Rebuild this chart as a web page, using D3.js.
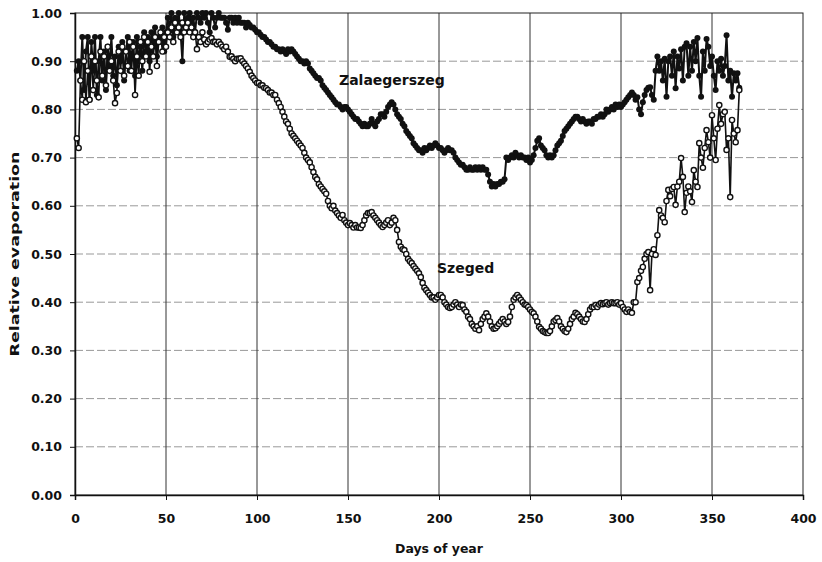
<!DOCTYPE html>
<html>
<head>
<meta charset="utf-8">
<script src="https://cdn.jsdelivr.net/npm/d3@7"></script>
<style>
  html, body { margin: 0; padding: 0; background: #fff; }
  svg { display: block; }
  text { font-family: "DejaVu Sans", sans-serif; font-weight: bold; fill: #111; }
</style>
</head>
<body>
<svg id="chart" width="822" height="562"></svg>
<script>
// Daily relative evaporation, day 1..365
const zalaegerszeg = [
  0.88, 0.90, 0.86, 0.95, 0.84, 0.92, 0.95, 0.82, 0.94, 0.88,
  0.95, 0.83, 0.90, 0.95, 0.86, 0.92, 0.84, 0.93, 0.89, 0.95,
  0.87, 0.91, 0.85, 0.93, 0.90, 0.94, 0.86, 0.92, 0.95, 0.88,
  0.91, 0.94, 0.87, 0.95, 0.90, 0.93, 0.88, 0.96, 0.92, 0.95,
  0.90, 0.96, 0.93, 0.97, 0.91, 0.95, 0.94, 0.97, 0.92, 0.96,
  0.99, 0.97, 1.00, 0.95, 0.99, 0.98, 1.00, 0.96, 0.90, 1.00,
  0.97, 0.99, 1.00, 0.98, 0.99, 0.96, 1.00, 0.99, 0.98, 1.00,
  0.99, 1.00, 0.98, 0.96, 1.00, 0.99, 0.97, 0.99, 1.00, 0.99,
  0.99, 0.99, 0.98, 0.965, 0.99, 0.99, 0.98, 0.99, 0.98, 0.99,
  0.98, 0.98, 0.98, 0.97, 0.98, 0.975, 0.97, 0.97, 0.965, 0.96,
  0.96, 0.955, 0.95, 0.95, 0.945, 0.94, 0.94, 0.935, 0.93, 0.93,
  0.925, 0.925, 0.92, 0.925, 0.92, 0.915, 0.925, 0.92, 0.925, 0.92,
  0.915, 0.91, 0.905, 0.90, 0.90, 0.895, 0.90, 0.895, 0.885, 0.88,
  0.875, 0.87, 0.865, 0.865, 0.86, 0.85, 0.845, 0.84, 0.835, 0.83,
  0.825, 0.82, 0.815, 0.81, 0.81, 0.805, 0.80, 0.805, 0.805, 0.80,
  0.795, 0.79, 0.785, 0.78, 0.78, 0.775, 0.77, 0.765, 0.77, 0.765,
  0.765, 0.77, 0.78, 0.77, 0.765, 0.775, 0.78, 0.79, 0.79, 0.785,
  0.795, 0.805, 0.81, 0.815, 0.81, 0.80, 0.79, 0.785, 0.78, 0.77,
  0.765, 0.755, 0.75, 0.745, 0.74, 0.73, 0.725, 0.72, 0.715, 0.715,
  0.71, 0.72, 0.715, 0.72, 0.725, 0.72, 0.725, 0.73, 0.725, 0.72,
  0.72, 0.715, 0.71, 0.715, 0.72, 0.715, 0.715, 0.71, 0.70, 0.695,
  0.69, 0.685, 0.685, 0.68, 0.675, 0.675, 0.68, 0.675, 0.675, 0.68,
  0.675, 0.68, 0.675, 0.68, 0.675, 0.675, 0.665, 0.65, 0.64, 0.645,
  0.64, 0.645, 0.645, 0.65, 0.65, 0.655, 0.70, 0.695, 0.70, 0.705,
  0.70, 0.71, 0.705, 0.70, 0.705, 0.70, 0.70, 0.695, 0.70, 0.69,
  0.695, 0.705, 0.72, 0.735, 0.74, 0.725, 0.72, 0.715, 0.705, 0.70,
  0.705, 0.70, 0.705, 0.715, 0.725, 0.73, 0.735, 0.745, 0.755, 0.76,
  0.765, 0.77, 0.775, 0.78, 0.785, 0.785, 0.78, 0.775, 0.78, 0.775,
  0.77, 0.775, 0.775, 0.77, 0.78, 0.78, 0.785, 0.785, 0.79, 0.785,
  0.79, 0.80, 0.795, 0.80, 0.805, 0.80, 0.81, 0.805, 0.81, 0.805,
  0.81, 0.815, 0.82, 0.825, 0.83, 0.835, 0.83, 0.82, 0.825, 0.80,
  0.79, 0.815, 0.83, 0.84, 0.845, 0.846, 0.83, 0.82, 0.88, 0.91,
  0.88, 0.90, 0.86, 0.905, 0.826, 0.90, 0.91, 0.87, 0.92, 0.844,
  0.91, 0.885, 0.925, 0.86, 0.93, 0.937, 0.87, 0.93, 0.88, 0.94,
  0.90, 0.948, 0.87, 0.826, 0.92, 0.88, 0.946, 0.93, 0.89, 0.91,
  0.87, 0.84, 0.90, 0.88, 0.905, 0.87, 0.89, 0.954, 0.86, 0.88,
  0.826, 0.875, 0.86, 0.875, 0.845
];

const szeged = [
  0.74, 0.72, 0.86, 0.82, 0.90, 0.815, 0.88, 0.82, 0.91, 0.84,
  0.90, 0.86, 0.825, 0.92, 0.87, 0.91, 0.85, 0.93, 0.88, 0.90,
  0.86, 0.813, 0.834, 0.92, 0.88, 0.93, 0.87, 0.92, 0.89, 0.94,
  0.88, 0.93, 0.83, 0.91, 0.87, 0.94, 0.90, 0.95, 0.91, 0.94,
  0.878, 0.93, 0.91, 0.95, 0.89, 0.94, 0.96, 0.92, 0.95, 0.93,
  0.96, 0.95, 0.97, 0.94, 0.98, 0.96, 0.97, 0.95, 0.98, 0.96,
  0.97, 0.98, 0.96, 0.97, 0.95, 0.96, 0.925, 0.95, 0.94, 0.96,
  0.945, 0.935, 0.94, 0.945, 0.948, 0.94, 0.94, 0.935, 0.94, 0.935,
  0.93, 0.925, 0.93, 0.92, 0.909, 0.91, 0.905, 0.90, 0.905, 0.905,
  0.906, 0.90, 0.895, 0.89, 0.885, 0.878, 0.87, 0.865, 0.86, 0.855,
  0.855, 0.85, 0.85, 0.845, 0.844, 0.84, 0.835, 0.835, 0.83, 0.83,
  0.82, 0.813, 0.805, 0.795, 0.785, 0.775, 0.77, 0.76, 0.75, 0.745,
  0.74, 0.735, 0.73, 0.725, 0.72, 0.71, 0.70, 0.695, 0.69, 0.68,
  0.67, 0.66, 0.655, 0.645, 0.64, 0.635, 0.63, 0.625, 0.61, 0.60,
  0.595, 0.60, 0.59, 0.585, 0.58, 0.575, 0.581, 0.57, 0.565, 0.56,
  0.564, 0.56, 0.555, 0.56, 0.555, 0.555, 0.554, 0.56, 0.57, 0.58,
  0.585, 0.585, 0.587, 0.58, 0.575, 0.57, 0.565, 0.56, 0.556, 0.56,
  0.565, 0.57, 0.56, 0.565, 0.575, 0.57, 0.55, 0.525, 0.515, 0.51,
  0.508, 0.50, 0.49, 0.485, 0.481, 0.475, 0.47, 0.465, 0.46, 0.452,
  0.44, 0.43, 0.425, 0.42, 0.415, 0.41, 0.41, 0.405, 0.41, 0.415,
  0.415, 0.41, 0.40, 0.395, 0.39, 0.388, 0.39, 0.395, 0.40, 0.395,
  0.39, 0.395, 0.394, 0.385, 0.38, 0.37, 0.365, 0.355, 0.35, 0.345,
  0.35, 0.342, 0.355, 0.365, 0.37, 0.377, 0.37, 0.36, 0.35, 0.345,
  0.346, 0.35, 0.355, 0.36, 0.365, 0.36, 0.355, 0.359, 0.37, 0.39,
  0.405, 0.41, 0.415, 0.41, 0.405, 0.40, 0.395, 0.394, 0.39, 0.385,
  0.38, 0.377, 0.37, 0.36, 0.349, 0.345, 0.34, 0.338, 0.336, 0.336,
  0.34, 0.35, 0.36, 0.363, 0.367, 0.36, 0.35, 0.345, 0.34, 0.338,
  0.345, 0.355, 0.365, 0.37, 0.378, 0.375, 0.37, 0.365, 0.36, 0.359,
  0.365, 0.375, 0.385, 0.39, 0.39, 0.394, 0.39, 0.395, 0.398, 0.396,
  0.398, 0.40, 0.395, 0.398, 0.40, 0.398, 0.398, 0.40, 0.395, 0.398,
  0.39, 0.385, 0.38, 0.385, 0.38, 0.378, 0.40, 0.40, 0.442, 0.45,
  0.465, 0.473, 0.49, 0.50, 0.504, 0.425, 0.50, 0.51, 0.498, 0.539,
  0.591, 0.58, 0.575, 0.566, 0.61, 0.633, 0.62, 0.635, 0.639, 0.602,
  0.64, 0.65, 0.699, 0.66, 0.587, 0.627, 0.64, 0.63, 0.608, 0.674,
  0.65, 0.639, 0.73, 0.70, 0.679, 0.72, 0.757, 0.732, 0.70, 0.788,
  0.74, 0.695, 0.76, 0.809, 0.77, 0.79, 0.795, 0.716, 0.74, 0.618,
  0.778, 0.75, 0.732, 0.757, 0.84
];

const xTicks = [0, 50, 100, 150, 200, 250, 300, 350, 400];
const yTicks = [0, 0.1, 0.2, 0.3, 0.4, 0.5, 0.6, 0.7, 0.8, 0.9, 1.0];
const seriesLabels = ["Zalaegerszeg", "Szeged"];
const axisTitles = { x: "Days of year", y: "Relative evaporation" };

const svg = d3.select("#chart");
const plot = { left: 75, right: 803, top: 13, bottom: 495 };

const x = d3.scaleLinear().domain([0, 400]).range([plot.left, plot.right]);
const y = d3.scaleLinear().domain([0, 1]).range([plot.bottom, plot.top]);

// horizontal dashed grid
svg.append("g")
  .selectAll("line")
  .data(yTicks.filter(v => v > 0 && v < 1))
  .join("line")
  .attr("x1", plot.left).attr("x2", plot.right)
  .attr("y1", d => y(d)).attr("y2", d => y(d))
  .attr("stroke", "#999").attr("stroke-width", 1)
  .attr("stroke-dasharray", "8,3");

// vertical solid grid
svg.append("g")
  .selectAll("line")
  .data(xTicks.filter(v => v > 0 && v < 400))
  .join("line")
  .attr("x1", d => x(d)).attr("x2", d => x(d))
  .attr("y1", plot.top).attr("y2", plot.bottom)
  .attr("stroke", "#333").attr("stroke-width", 1);

// frame
svg.append("rect")
  .attr("x", plot.left).attr("y", plot.top)
  .attr("width", plot.right - plot.left).attr("height", plot.bottom - plot.top)
  .attr("fill", "none").attr("stroke", "#222").attr("stroke-width", 1);

// axes
const xAxis = svg.append("g")
  .attr("transform", `translate(0,${plot.bottom})`)
  .call(d3.axisBottom(x).tickValues(xTicks).tickFormat(d3.format("d")).tickSizeOuter(0).tickSize(5).tickPadding(14));
const yAxis = svg.append("g")
  .attr("transform", `translate(${plot.left},0)`)
  .call(d3.axisLeft(y).tickValues(yTicks).tickFormat(d3.format(".2f")).tickSizeOuter(0).tickSize(5).tickPadding(8));

[xAxis, yAxis].forEach(a => {
  a.select(".domain").attr("stroke", "#111").attr("stroke-width", 1.5);
  a.selectAll(".tick line").attr("stroke", "#111");
  a.selectAll(".tick text")
    .attr("font-family", "DejaVu Sans, sans-serif")
    .attr("font-weight", "bold")
    .attr("font-size", 12.5)
    .attr("fill", "#111");
});

const days = d3.range(1, 366);
const lineGen = vals => d3.line()
  .x((d, i) => x(days[i]))
  .y(d => y(d))(vals);

// Zalaegerszeg: line with filled markers
svg.append("path")
  .attr("d", lineGen(zalaegerszeg))
  .attr("fill", "none").attr("stroke", "#111").attr("stroke-width", 2)
  .attr("stroke-linejoin", "round");
svg.append("g")
  .selectAll("circle")
  .data(zalaegerszeg)
  .join("circle")
  .attr("cx", (d, i) => x(days[i]))
  .attr("cy", d => y(d))
  .attr("r", 3)
  .attr("fill", "#111");

// Szeged: line with open circle markers
svg.append("path")
  .attr("d", lineGen(szeged))
  .attr("fill", "none").attr("stroke", "#111").attr("stroke-width", 1.6)
  .attr("stroke-linejoin", "round");
svg.append("g")
  .selectAll("circle")
  .data(szeged)
  .join("circle")
  .attr("cx", (d, i) => x(days[i]))
  .attr("cy", d => y(d))
  .attr("r", 2.6)
  .attr("fill", "#fff")
  .attr("stroke", "#111").attr("stroke-width", 1.4);

// series labels
svg.append("text")
  .attr("x", 339).attr("y", 85)
  .attr("font-size", 14)
  .text(seriesLabels[0]);
svg.append("text")
  .attr("x", 437).attr("y", 273)
  .attr("font-size", 14)
  .text(seriesLabels[1]);

// axis titles
svg.append("text")
  .attr("x", 439).attr("y", 553)
  .attr("text-anchor", "middle")
  .attr("font-size", 12.5)
  .text(axisTitles.x);
svg.append("text")
  .attr("transform", `translate(19,${(plot.top + plot.bottom) / 2}) rotate(-90)`)
  .attr("text-anchor", "middle")
  .attr("font-size", 13)
  .attr("textLength", 205)
  .attr("lengthAdjust", "spacingAndGlyphs")
  .text(axisTitles.y);
</script>
</body>
</html>
